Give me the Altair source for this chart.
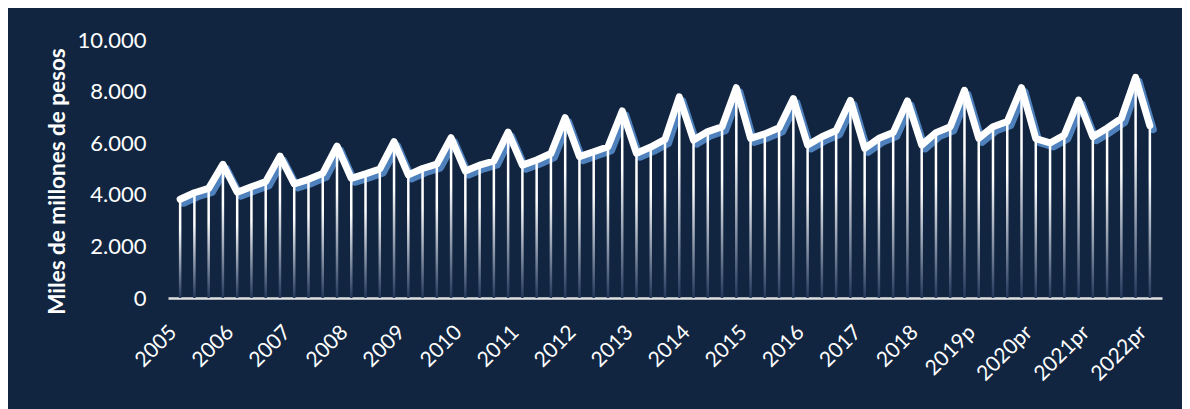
import altair as alt
import pandas as pd

# Quarterly series 2005-T1 .. 2022-T1 (miles de millones de pesos)
year_labels = ["2005", "2006", "2007", "2008", "2009", "2010", "2011", "2012", "2013",
               "2014", "2015", "2016", "2017", "2018", "2019p", "2020pr", "2021pr", "2022pr"]
values = [
    3830, 4080, 4250, 5180,
    4100, 4310, 4510, 5500,
    4420, 4600, 4830, 5890,
    4640, 4810, 5000, 6060,
    4770, 5020, 5190, 6210,
    4920, 5150, 5310, 6430,
    5150, 5350, 5600, 6990,
    5480, 5670, 5860, 7250,
    5610, 5850, 6150, 7800,
    6120, 6450, 6640, 8150,
    6190, 6360, 6600, 7730,
    5930, 6250, 6490, 7660,
    5800, 6190, 6410, 7640,
    5930, 6410, 6640, 8050,
    6190, 6640, 6840, 8150,
    6180, 6010, 6320, 7670,
    6250, 6580, 6960, 8550,
    6680,
]
y_ticks = [0, 2000, 4000, 6000, 8000, 10000]

df = pd.DataFrame({"idx": list(range(len(values))), "valor": values})

BG = "#112540"
FONT = "Lato"

label_array = "[" + ",".join("'" + s + "'" for s in year_labels) + "]"
x_enc = alt.X(
    "idx:Q",
    scale=alt.Scale(domain=[-0.5, len(values) - 0.5], nice=False, zero=False),
    axis=alt.Axis(
        values=[i * 4 for i in range(len(year_labels))],
        labelExpr=label_array + "[round(datum.value / 4)]",
        labelAngle=315, labelAlign="right", labelBaseline="middle",
        labelPadding=31, labelOffset=-7, ticks=False, tickSize=0, grid=False,
        domain=True, domainColor="#e0e0e0", domainWidth=2.5,
        labelColor="white", labelFont=FONT, labelFontSize=21,
        title=None, labelOverlap=False,
    ),
)
y_enc = alt.Y(
    "valor:Q",
    scale=alt.Scale(domain=[0, 10000], nice=False),
    axis=alt.Axis(
        values=y_ticks,
        labelExpr="replace(format(datum.value, ','), ',', '.')",
        ticks=False, tickSize=0, grid=False, domain=False,
        labelColor="white", labelFont=FONT, labelFontSize=22, labelPadding=22,
        title="Miles de millones de pesos", titleColor="white", titleFont=FONT,
        titleFontSize=22.5, titleFontWeight="bold",
        titleX=-111, titleY=141, titleAlign="center", titleBaseline="middle",
    ),
)

base = alt.Chart(df)

shadow = base.mark_line(color="#4f81bd", strokeWidth=7, xOffset=3.5, yOffset=4,
                        strokeJoin="round", strokeCap="round").encode(x=x_enc, y=y_enc)

grad = alt.Gradient(
    gradient="linear",
    stops=[alt.GradientStop(color="#ffffff", offset=0),
           alt.GradientStop(color="#ffffff", offset=0.3),
           alt.GradientStop(color="#22375a", offset=1)],
    x1=0, x2=0, y1=0, y2=1,
)
drops = base.mark_bar(size=2.5, color=grad).encode(x=x_enc, y=y_enc)

line = base.mark_line(color="white", strokeWidth=7,
                      strokeJoin="round", strokeCap="round").encode(x=x_enc, y=y_enc)

chart = alt.layer(shadow, drops, line).properties(
    width=994, height=258,
    background=BG,
    autosize=alt.AutoSizeParams(type="none"),
    padding={"left": 160, "top": 32, "right": 20, "bottom": 111},
).configure_view(stroke=None)

chart.save("out.html", embed_options={"renderer": "svg", "actions": False})
